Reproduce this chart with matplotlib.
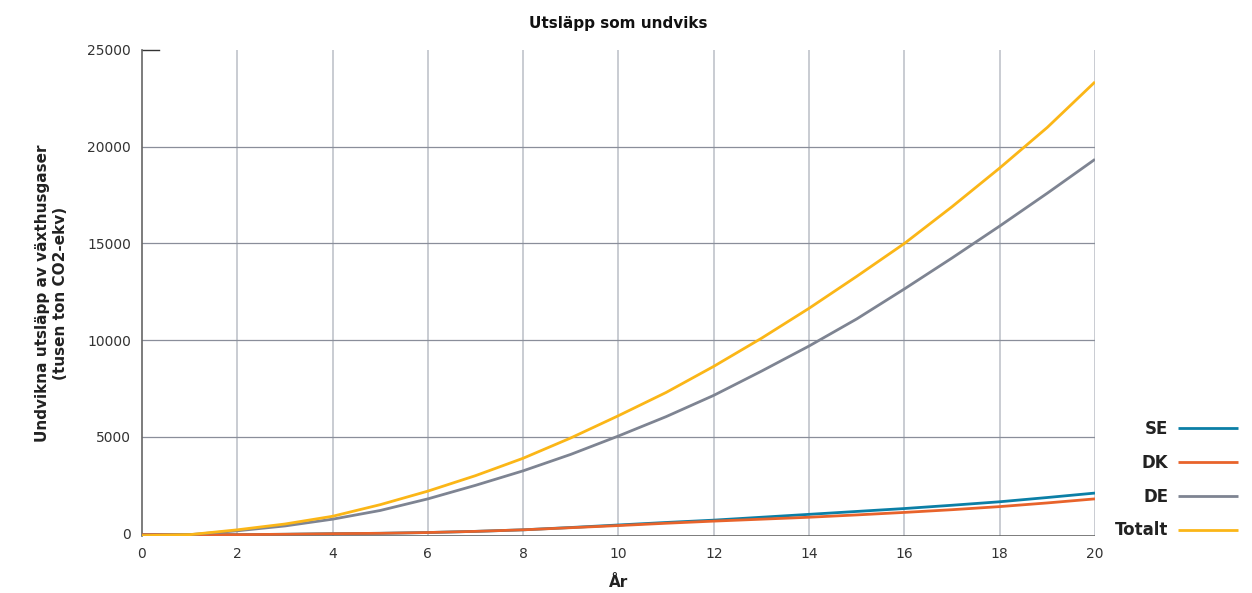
import matplotlib
matplotlib.use("Agg")
import matplotlib.pyplot as plt

years = list(range(0, 21))
se = [-50, -50, -50, -30, 0, 20, 60, 120, 200, 320, 450, 580, 700, 850, 1000, 1150, 1300, 1470, 1650, 1870, 2100]
dk = [-50, -50, -50, -30, 0, 20, 60, 120, 200, 310, 420, 540, 650, 750, 850, 970, 1100, 1240, 1400, 1590, 1800]
de = [-100, -50, 150, 400, 750, 1200, 1800, 2500, 3250, 4100, 5050, 6050, 7150, 8400, 9700, 11100, 12650, 14250, 15900, 17600, 19350]
totalt = [-100, -50, 200, 500, 900, 1500, 2200, 3000, 3900, 4950, 6100, 7300, 8650, 10100, 11650, 13300, 15000, 16900, 18900, 21000, 23350]

series = [("SE", se, "#0b7fa6"), ("DK", dk, "#e8632b"), ("DE", de, "#7e8492"), ("Totalt", totalt, "#fbb617")]
xticks = list(range(0, 21, 2))
yticks = [0, 5000, 10000, 15000, 20000, 25000]

plt.rcParams['font.family'] = ['DejaVu Sans']
fig = plt.figure(figsize=(12.52, 5.93), dpi=100)
ax = fig.add_axes([0.1134, 0.0961, 0.7612, 0.8196])

for name, vals, col in series:
    ax.plot(years, vals, color=col, lw=2, label=name, zorder=3, solid_capstyle='butt', solid_joinstyle='round')

ax.set_xlim(0, 20)
ax.set_ylim(-120, 25000)
ax.set_xticks(xticks)
ax.set_yticks(yticks)
ax.tick_params(axis='both', length=0, labelsize=10, colors='#333333')
ax.tick_params(axis='x', pad=8)
ax.tick_params(axis='y', pad=8)

for x in xticks[1:]:
    ax.axvline(x, color='#c0c3cb', lw=1.2, zorder=1)
for y in yticks[1:-1]:
    ax.axhline(y, color='#8a8e9a', lw=0.9, zorder=1)
ax.plot([0, 0.35], [25000, 25000], color='#333333', lw=1, clip_on=False, zorder=2)
ax.axhline(-120, color='#666666', lw=1.2, zorder=2)

for s in ['top', 'right', 'bottom']:
    ax.spines[s].set_visible(False)
ax.spines['left'].set_color('#666666')
ax.spines['left'].set_linewidth(1.2)

ax.set_title("Utsläpp som undviks", fontsize=11, fontweight='bold', color='#111111', pad=16)
ax.set_xlabel("År", fontsize=11, fontweight='bold', color='#222222', labelpad=10)
ax.set_ylabel("Undvikna utsläpp av växthusgaser\n(tusen ton CO2-ekv)", fontsize=11, fontweight='bold', color='#222222', labelpad=14)

leg = ax.legend(loc='lower left', bbox_to_anchor=(1.005, -0.038), frameon=False, markerfirst=False,
                handlelength=3.6, labelspacing=0.95, fontsize=12, handletextpad=0.6)
for t in leg.get_texts():
    t.set_fontweight('bold')
    t.set_color('#222222')

fig.savefig("out.png", dpi=100)
